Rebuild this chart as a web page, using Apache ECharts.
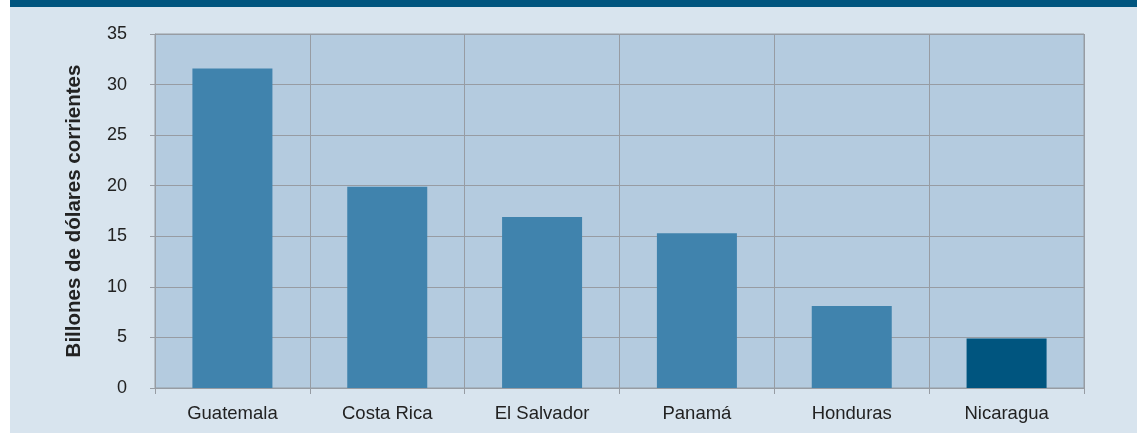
<!DOCTYPE html>
<html><head><meta charset="utf-8">
<script src="https://cdn.jsdelivr.net/npm/echarts@6/dist/echarts.min.js"></script>
<style>html,body{margin:0;padding:0;background:#fff;}#c{width:1137px;height:435px;}</style>
</head><body><div id="c"></div>
<script>
const categories = ['Guatemala','Costa Rica','El Salvador','Panamá','Honduras','Nicaragua'];
const values = [31.6, 19.9, 16.9, 15.3, 8.1, 4.9];
const highlightIndex = 5;
const yTicks = [0,5,10,15,20,25,30,35];

const chart = echarts.init(document.getElementById('c'), null, {renderer:'canvas'});
const gridColor = '#979ca3';
const font = 'Liberation Sans, Arial, sans-serif';
chart.setOption({
  animation:false,
  backgroundColor:'#ffffff',
  graphic:[
    {type:'rect', left:10, top:0, z:-10, shape:{width:1127, height:433}, style:{fill:'#d8e4ee'}},
    {type:'rect', left:10, top:0, z:-9, shape:{width:1127, height:7}, style:{fill:'#00557f'}}
  ],
  grid:{left:155, right:53, top:34, bottom:47, show:true, backgroundColor:'#b4cbdf', borderColor:gridColor, borderWidth:1},
  xAxis:{
    type:'category', data:categories,
    axisLine:{show:true, lineStyle:{color:gridColor, width:1}},
    axisTick:{show:true, length:6, alignWithLabel:false, lineStyle:{color:gridColor}},
    splitLine:{show:true, lineStyle:{color:gridColor, width:1}},
    axisLabel:{color:'#222', fontSize:18.5, fontFamily:font, margin:16}
  },
  yAxis:{
    type:'value', min:0, max:35, interval:5,
    name:'Billones de dólares corrientes', nameLocation:'middle', nameGap:70, nameRotate:90,
    nameTextStyle:{color:'#222', fontSize:20.5, fontWeight:'bold', fontFamily:font},
    axisLine:{show:true, lineStyle:{color:gridColor, width:1}},
    axisTick:{show:true, length:5, lineStyle:{color:gridColor}},
    splitLine:{show:true, lineStyle:{color:gridColor, width:1}},
    axisLabel:{color:'#222', fontSize:18, fontFamily:font, margin:28, align:'right',
      formatter:v=>yTicks.includes(v)?String(v):''}
  },
  series:[{
    type:'bar', barWidth:80,
    data:values.map((v,i)=>({value:v, itemStyle:{color: i===highlightIndex ? '#00557f' : '#4083ad'}}))
  }]
});
</script></body></html>
